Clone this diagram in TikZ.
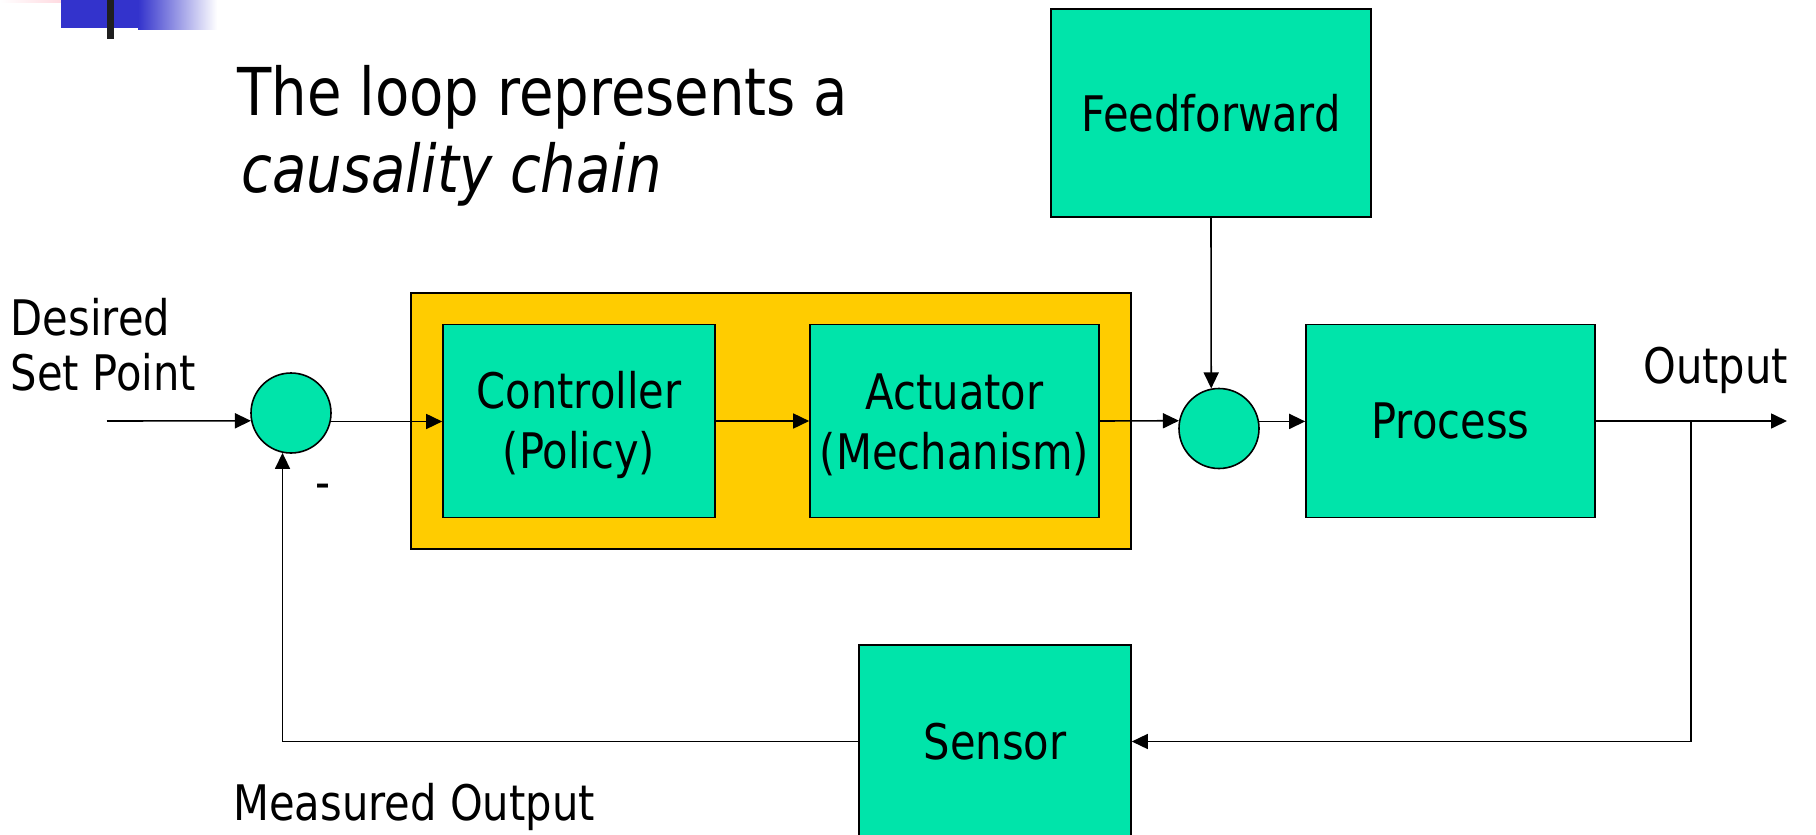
\documentclass[tikz,border=0pt]{standalone}
\usepackage{fontspec}
\setmainfont{DejaVu Sans}[FakeStretch=0.85]
\usetikzlibrary{arrows.meta}
\definecolor{boxgreen}{RGB}{0,228,170}
\definecolor{ctrlyellow}{RGB}{255,204,0}
\definecolor{logoblue}{RGB}{51,51,204}
\definecolor{logopink}{RGB}{255,200,210}
\newcommand{\lblfont}{\fontsize{24.5pt}{30pt}\selectfont}
\newcommand{\ttlfont}{\fontsize{33pt}{38pt}\selectfont}
\newcommand{\lowln}[1]{\raisebox{-2pt}[\height][\depth]{#1}}
\tikzset{
  blk/.style={draw=black, line width=0.8pt, fill=boxgreen, rectangle, inner sep=0pt, font=\lblfont, align=center},
  sumj/.style={draw=black, line width=0.8pt, fill=boxgreen, circle, minimum size=40pt, inner sep=0pt},
  conn/.style={line width=0.8pt, -{Triangle[length=8pt,width=7.5pt]}},
  lbl/.style={inner sep=0pt, anchor=base west, font=\lblfont},
  ttl/.style={inner sep=0pt, anchor=base west, font=\ttlfont}
}
\begin{document}
\begin{tikzpicture}[x=0.5pt,y=-0.5pt]
\useasboundingbox (0,0) rectangle (1816,835);
\clip (0,0) rectangle (1816,835);
% slide decoration
\shade[left color=white, right color=logopink] (0,0) rectangle (92,2);
\fill[logoblue] (61,0) rectangle (139,28);
\shade[left color=logoblue, right color=white] (138,0) rectangle (217,29);
\fill[black!88] (107,0) rectangle (114,39);
% title
\node[ttl] (t1) at (237,115) {The loop represents a};
\node[ttl] (t2) at (241,192) {\itshape causality chain};
% blocks
\node[draw=black, line width=0.8pt, fill=ctrlyellow, minimum width=360pt, minimum height=128pt, inner sep=0pt] (ctlgrp) at (771,421) {};
\node[blk, minimum width=136pt, minimum height=96.5pt] (ctrl) at (579,421) {\lowln{Controller}\\\lowln{(Policy)}};
\node[blk, minimum width=144.5pt, minimum height=96.5pt] (act) at (954.5,421) {\lowln{Actuator}\\\lowln{(Mechanism)}};
\node[blk, minimum width=144.5pt, minimum height=96.5pt] (proc) at (1450.5,421) {Process};
\node[blk, minimum width=160pt, minimum height=104pt] (ff) at (1211,113) {Feedforward};
\node[blk, minimum width=136pt, minimum height=96.5pt] (sens) at (995,741.5) {Sensor};
\node[sumj] (c1) at (291,413) {};
\node[sumj] (c2) at (1219,428.5) {};
% free ends
\coordinate (in) at (107,421);
\coordinate (out) at (1787,421);
\coordinate (br) at (1691,421);
% connectors
\draw[conn] (in) -- (c1.191.5);
\draw[conn] (c1.348.5) -- (c1.348.5 -| ctrl.west);
\draw[conn] (ctrl.east) -- (act.west);
\draw[conn] (act.east) -- (c2.169.2);
\draw[conn] (c2.10.8) -- (c2.10.8 -| proc.west);
\draw[conn] (proc.east) -- (out);
\draw[conn] (br) |- (sens.east);
\draw[conn] (sens.west) -| (c1.258.5);
\draw[conn] (ff.south) -- (c2.101.5);
% labels
\node[lbl] (ds1) at (10.5,335) {Desired};
\node[lbl] (ds2) at (10.5,390) {Set Point};
\node[lbl] (outl) at (1643,383) {Output};
\node[lbl] (meas) at (233,820) {Measured Output};
\node[lbl, anchor=base] (minus) at (323,499) {-};
\end{tikzpicture}
\end{document}
